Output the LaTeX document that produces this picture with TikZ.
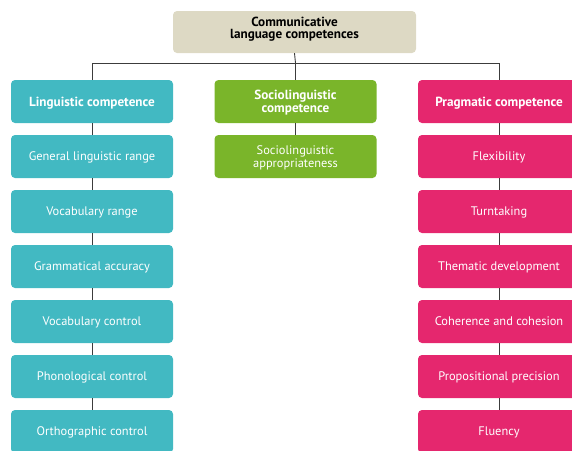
\documentclass[tikz,border=0pt]{standalone}
\usepackage{fontspec}
\setmainfont{PT Sans}
\definecolor{teal}{RGB}{66,185,194}
\definecolor{lgreen}{RGB}{122,181,42}
\definecolor{pink}{RGB}{229,39,110}
\definecolor{beige}{RGB}{221,217,196}
\definecolor{linec}{RGB}{60,60,60}
\tikzset{
  box/.style={rectangle, rounded corners=4pt, minimum width=162pt, minimum height=43pt,
    text=white, align=center, inner sep=2pt, text depth=0pt, font=\fontsize{12.4}{12.8}\selectfont},
  head/.style={box, font=\fontsize{13.2}{13}\selectfont\bfseries},
  lbox/.style={box, fill=teal},
  sbox/.style={box, fill=lgreen},
  pbox/.style={box, fill=pink},
  conn/.style={draw=linec, line width=0.9pt}
}
\begin{document}
\begin{tikzpicture}[x=1pt,y=-1pt]
\useasboundingbox (0,0) rectangle (572,450);
\clip (0,0) rectangle (572,450);
\node[box, fill=beige, text=black, minimum width=243pt, minimum height=42pt, text depth=8pt, font=\fontsize{13.2}{12.5}\selectfont\bfseries] (top) at (294.5,32) {Communicative\\language competences};
\coordinate (j) at (295.5,63);
% linguistic column
\node[head, fill=teal] (l0) at (92,101.5) {Linguistic competence};
\node[lbox] (l1) at (92,156.5) {General linguistic range};
\node[lbox] (l2) at (92,211.5) {Vocabulary range};
\node[lbox] (l3) at (92,266.5) {Grammatical accuracy};
\node[lbox] (l4) at (92,321.5) {Vocabulary control};
\node[lbox] (l5) at (92,376.5) {Phonological control};
\node[lbox] (l6) at (92,431.5) {Orthographic control};
% sociolinguistic column
\node[head, fill=lgreen] (s0) at (295.5,101.5) {Sociolinguistic\\competence};
\node[sbox] (s1) at (295.5,156.5) {Sociolinguistic\\appropriateness};
% pragmatic column
\node[head, fill=pink] (p0) at (499,101.5) {Pragmatic competence};
\node[pbox] (p1) at (499,156.5) {Flexibility};
\node[pbox] (p2) at (499,211.5) {Turntaking};
\node[pbox] (p3) at (499,266.5) {Thematic development};
\node[pbox] (p4) at (499,321.5) {Coherence and cohesion};
\node[pbox] (p5) at (499,376.5) {Propositional precision};
\node[pbox] (p6) at (499,431.5) {Fluency};
% connectors
\draw[conn] (top.south) -- (j);
\draw[conn] (l0.north) -- (l0.north |- j) -- (p0.north |- j) -- (p0.north);
\draw[conn] (j) -- (s0.north);
\draw[conn] (l0) -- (l1); \draw[conn] (l1) -- (l2); \draw[conn] (l2) -- (l3);
\draw[conn] (l3) -- (l4); \draw[conn] (l4) -- (l5); \draw[conn] (l5) -- (l6);
\draw[conn] (s0) -- (s1);
\draw[conn] (p0) -- (p1); \draw[conn] (p1) -- (p2); \draw[conn] (p2) -- (p3);
\draw[conn] (p3) -- (p4); \draw[conn] (p4) -- (p5); \draw[conn] (p5) -- (p6);
\end{tikzpicture}
\end{document}
